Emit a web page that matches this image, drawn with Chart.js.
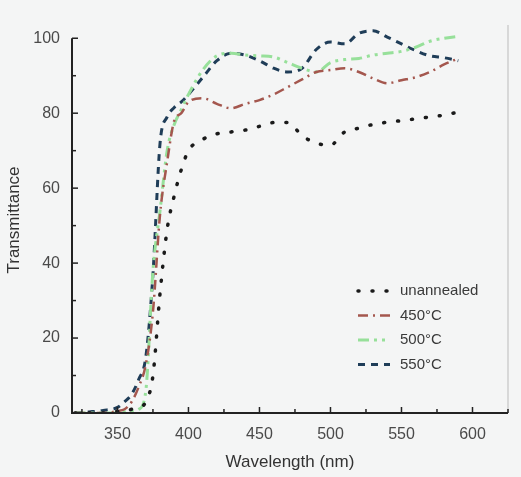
<!DOCTYPE html>
<html>
<head>
<meta charset="utf-8">
<script src="https://cdn.jsdelivr.net/npm/chart.js@4.4.1/dist/chart.umd.min.js"></script>
<style>
  html, body { margin: 0; padding: 0; background: #f4f5f5; }
  #wrap { width: 521px; height: 477px; }
</style>
</head>
<body>
<div id="wrap"><canvas id="chart" width="521" height="477"></canvas></div>
<script>
// wavelength grid (nm)
const wavelength = [320, 330, 340, 350, 355, 360, 365, 370, 375, 380, 385, 390, 395, 400,
  410, 420, 430, 440, 450, 460, 470, 480, 490, 500, 510, 520, 530, 540, 550, 560, 570, 580, 590];

const unannealed = [0, 0, 0, 0.5, 0.5, 1, 1.5, 3, 10, 32, 49, 58, 65, 70,
  73, 74.5, 75, 75.5, 76.5, 77.5, 77.5, 74, 72, 71.5, 75, 76, 77, 77.6, 78, 78.5, 79, 79.5, 80.3];
const t450 = [0, 0, 0, 0.5, 1, 3, 7, 13, 27, 53, 67, 78, 80, 83,
  84, 82.5, 81.3, 82.5, 83.5, 85, 87, 89, 91, 91.5, 92, 91, 89.3, 88, 88.8, 89.6, 91, 93, 94.6];
const t500 = [0, 0, 0, 0, 0.3, 0.5, 1, 6, 38, 54, 70, 77, 81, 85,
  91.5, 95.3, 96, 95.5, 95.3, 95, 93.5, 92, 91, 93.5, 94.3, 94.6, 95.5, 96, 96.5, 97.6, 99.2, 100, 100.5];
const t550 = [0, 0.3, 0.7, 1.5, 3, 5, 9, 15, 37, 72, 79, 81.5, 83, 85,
  89.5, 94, 96, 95.5, 94, 92, 91, 92, 97, 99, 98.5, 101.3, 102, 100.3, 98.5, 96.7, 95.3, 94.8, 94];

const xTicks = [350, 400, 450, 500, 550, 600];
const yTicks = [0, 20, 40, 60, 80, 100];

function pts(vals) {
  return wavelength.map((w, i) => ({ x: w, y: vals[i] }));
}

// legend drawn inside the plot, bottom right
const innerLegend = {
  id: 'innerLegend',
  afterDraw(chart) {
    const ctx = chart.ctx;
    const x0 = 358, y0 = 291, dy = 24.5;
    chart.data.datasets.forEach((ds, i) => {
      const y = y0 + i * dy;
      ctx.save();
      ctx.strokeStyle = ds.borderColor;
      ctx.lineWidth = ds.borderWidth;
      ctx.lineCap = ds.borderCapStyle || 'butt';
      ctx.setLineDash(ds.borderDash || []);
      ctx.beginPath();
      ctx.moveTo(x0, y);
      ctx.lineTo(x0 + 32, y);
      ctx.stroke();
      ctx.setLineDash([]);
      ctx.fillStyle = '#3a3a3a';
      ctx.font = '15px "Liberation Sans", Arial, sans-serif';
      ctx.textBaseline = 'middle';
      ctx.fillText(ds.label, x0 + 42, y);
      ctx.restore();
    });
  }
};

// inward minor ticks + frame
const frame = {
  id: 'frame',
  afterDraw(chart) {
    const ctx = chart.ctx, a = chart.chartArea;
    const xs = chart.scales.x, ys = chart.scales.y;
    ctx.save();
    ctx.strokeStyle = '#bbbbbb';
    ctx.lineWidth = 1;
    ctx.beginPath();
    ctx.moveTo(a.right, a.top - 2);
    ctx.lineTo(a.right, a.bottom);
    ctx.stroke();
    ctx.strokeStyle = '#222';
    ctx.lineWidth = 2;
    ctx.beginPath();
    ctx.moveTo(a.left, ys.getPixelForValue(100));
    ctx.lineTo(a.left, a.bottom);
    ctx.lineTo(a.right, a.bottom);
    ctx.stroke();
    ctx.lineWidth = 1.5;
    for (let v = 0; v <= 100; v += 10) {
      const y = ys.getPixelForValue(v);
      ctx.beginPath();
      ctx.moveTo(a.left, y);
      ctx.lineTo(a.left + (v % 20 === 0 ? 6 : 4), y);
      ctx.stroke();
    }
    for (let v = 325; v <= 625; v += 25) {
      const x = xs.getPixelForValue(v);
      ctx.beginPath();
      ctx.moveTo(x, a.bottom);
      ctx.lineTo(x, a.bottom - (v % 50 === 0 ? 6 : 4));
      ctx.stroke();
    }
    ctx.restore();
  }
};

const ctx = document.getElementById('chart').getContext('2d');
const myChart = new Chart(ctx, {
  type: 'line',
  data: {
    datasets: [
      {
        label: 'unannealed',
        data: pts(unannealed),
        borderColor: '#1a1a1a',
        borderWidth: 3.5,
        borderDash: [1, 13],
        borderCapStyle: 'round',
      },
      {
        label: '450°C',
        data: pts(t450),
        borderColor: '#a4574e',
        borderWidth: 2.5,
        borderDash: [10, 5, 2, 5],
      },
      {
        label: '500°C',
        data: pts(t500),
        borderColor: '#97e09a',
        borderWidth: 3,
        borderDash: [11, 5, 3, 5, 3, 5],
      },
      {
        label: '550°C',
        data: pts(t550),
        borderColor: '#1f3d58',
        borderWidth: 3,
        borderDash: [7, 6],
      },
    ],
  },
  options: {
    responsive: false,
    animation: false,
    layout: { padding: { top: 27, right: 13, left: 0, bottom: 0 } },
    elements: {
      point: { radius: 0 },
      line: { cubicInterpolationMode: 'monotone', fill: false },
    },
    plugins: {
      legend: { display: false },
      tooltip: { enabled: false },
    },
    scales: {
      x: {
        type: 'linear',
        min: 318,
        max: 625,
        afterBuildTicks: (s) => { s.ticks = xTicks.map(v => ({ value: v })); },
        afterFit: (s) => { s.height = 64; },
        grid: { display: false },
        border: { display: false },
        ticks: {
          color: '#4a4a4a',
          font: { family: '"Liberation Sans", Arial, sans-serif', size: 16 },
          padding: 4,
        },
        title: {
          display: true,
          text: 'Wavelength (nm)',
          color: '#333',
          font: { family: '"Liberation Sans", Arial, sans-serif', size: 17 },
          padding: { top: 6 },
        },
      },
      y: {
        min: 0,
        max: 103,
        afterBuildTicks: (s) => { s.ticks = yTicks.map(v => ({ value: v })); },
        afterFit: (s) => { s.width = 72; },
        grid: { display: false },
        border: { display: false },
        ticks: {
          color: '#4a4a4a',
          font: { family: '"Liberation Sans", Arial, sans-serif', size: 16 },
          padding: 4,
        },
        title: {
          display: true,
          text: 'Transmittance',
          color: '#333',
          font: { family: '"Liberation Sans", Arial, sans-serif', size: 17 },
          padding: { bottom: 2 },
        },
      },
    },
  },
  plugins: [frame, innerLegend],
});
</script>
</body>
</html>
